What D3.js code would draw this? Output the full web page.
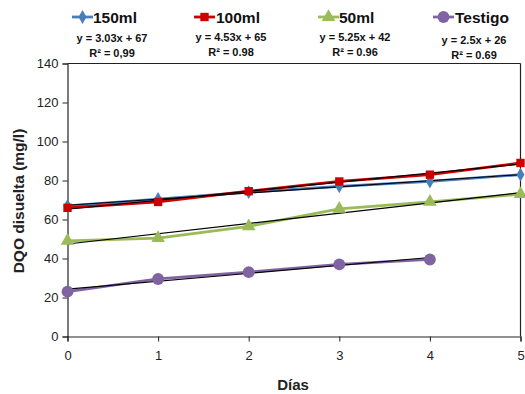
<!DOCTYPE html>
<html><head><meta charset="utf-8">
<script src="https://cdn.jsdelivr.net/npm/d3@7"></script>
<style>body{margin:0;background:#fff}svg{display:block;font-family:"Liberation Sans",Arial,sans-serif}</style>
</head><body><svg id="c" width="525" height="394"></svg>
<script>
const days = [0,1,2,3,4,5];
const s150 = [67,70.5,74,77,79.5,83];
const s100 = [66,69,74.5,79.5,83,89];
const s50 = [49,50.5,56.5,65.5,69,73];
const sTestigo = [23,29.5,33,37,39.5];
const seriesNames = ["150ml","100ml","50ml","Testigo"];
const equations = ["y = 3.03x + 67","y = 4.53x + 65","y = 5.25x + 42","y = 2.5x + 26"];
const r2 = ["R² = 0,99","R² = 0.98","R² = 0.96","R² = 0.69"];
const xTicks = [0,1,2,3,4,5];
const yTicks = [0,20,40,60,80,100,120,140];

const colors = ["#4A7EBB","#CC0000","#9BBB59","#8064A2"];
const shapes = [d3.symbolDiamond, d3.symbolSquare, d3.symbolTriangle, d3.symbolCircle];
const sizes = [55, 70, 80, 110];
const allSeries = [s150,s100,s50,sTestigo];

const svg = d3.select("#c");
const x = d3.scaleLinear().domain([0,5]).range([67.5,520.5]);
const y = d3.scaleLinear().domain([0,140]).range([336.5,63.5]);

// frame
svg.append("line").attr("x1",x(0)).attr("x2",x(5)).attr("y1",y(140)).attr("y2",y(140)).attr("stroke","#222").attr("stroke-width",1.2);
svg.append("line").attr("x1",x(5)).attr("x2",x(5)).attr("y1",y(140)).attr("y2",y(0)).attr("stroke","#222").attr("stroke-width",1.2);

const xAxis = svg.append("g").attr("transform",`translate(0,${y(0)})`)
  .call(d3.axisBottom(x).tickValues(xTicks).tickSize(5).tickPadding(9).tickFormat(d3.format("d")));
const yAxis = svg.append("g").attr("transform",`translate(${x(0)},0)`)
  .call(d3.axisLeft(y).tickValues(yTicks).tickSize(5).tickPadding(4).tickFormat(d3.format("d")));
[xAxis,yAxis].forEach(g=>{
  g.select(".domain").attr("stroke","#222").attr("stroke-width",1.2);
  g.selectAll(".tick line").attr("stroke","#222");
  g.selectAll("text").attr("font-size",13).attr("fill","#222").attr("font-family","'Liberation Sans',Arial,sans-serif");
});

svg.append("text").attr("x",293).attr("y",390).attr("text-anchor","middle")
  .attr("font-weight","bold").attr("font-size",15).attr("fill","#222").text("Días");
svg.append("text").attr("transform","translate(24,201) rotate(-90)").attr("text-anchor","middle")
  .attr("font-weight","bold").attr("font-size",15.5).attr("fill","#222").text("DQO disuelta (mg/l)");

const line = d3.line().x((d,i)=>x(days[i])).y(d=>y(d));
function fit(vals){
  const xs = days.slice(0,vals.length);
  const mx = d3.mean(xs), my = d3.mean(vals);
  const b = d3.sum(xs,(v,i)=>(v-mx)*(vals[i]-my))/d3.sum(xs,v=>(v-mx)*(v-mx));
  return {a: my-b*mx, b, x0: xs[0], x1: xs[xs.length-1]};
}
allSeries.forEach((s,k)=>{
  svg.append("path").datum(s).attr("d",line).attr("fill","none")
    .attr("stroke",colors[k]).attr("stroke-width",2.8);
});
allSeries.forEach((s,k)=>{
  const f = fit(s);
  svg.append("line").attr("x1",x(f.x0)).attr("y1",y(f.a+f.b*f.x0))
    .attr("x2",x(f.x1)).attr("y2",y(f.a+f.b*f.x1)).attr("stroke","#000").attr("stroke-width",1.1);
});
allSeries.forEach((s,k)=>{
  svg.selectAll(null).data(s).enter().append("path")
    .attr("transform",(d,i)=>`translate(${x(days[i])},${y(d)})`)
    .attr("d",d3.symbol().type(shapes[k]).size(sizes[k])).attr("fill",colors[k]);
});

// legend
const legX = [72,194,318,433];
const legText = [93,216,339,455];
seriesNames.forEach((n,k)=>{
  svg.append("line").attr("x1",legX[k]).attr("x2",legX[k]+21).attr("y1",17).attr("y2",17)
    .attr("stroke",colors[k]).attr("stroke-width",2.8);
  svg.append("path").attr("transform",`translate(${legX[k]+10.5},17)`)
    .attr("d",d3.symbol().type(shapes[k]).size(sizes[k])).attr("fill",colors[k]);
  svg.append("text").attr("x",legText[k]).attr("y",22.5).attr("font-weight","bold")
    .attr("font-size",15.5).attr("fill","#111").text(n);
});
const eqX = [112,231,355,474];
const eqY = [42,41,41,44];
equations.forEach((e,k)=>{
  svg.append("text").attr("x",eqX[k]).attr("y",eqY[k]).attr("text-anchor","middle")
    .attr("font-weight","bold").attr("font-size",11).attr("fill","#111").text(e);
  svg.append("text").attr("x",eqX[k]).attr("y",eqY[k]+15).attr("text-anchor","middle")
    .attr("font-weight","bold").attr("font-size",11).attr("fill","#111").text(r2[k]);
});
</script></body></html>
